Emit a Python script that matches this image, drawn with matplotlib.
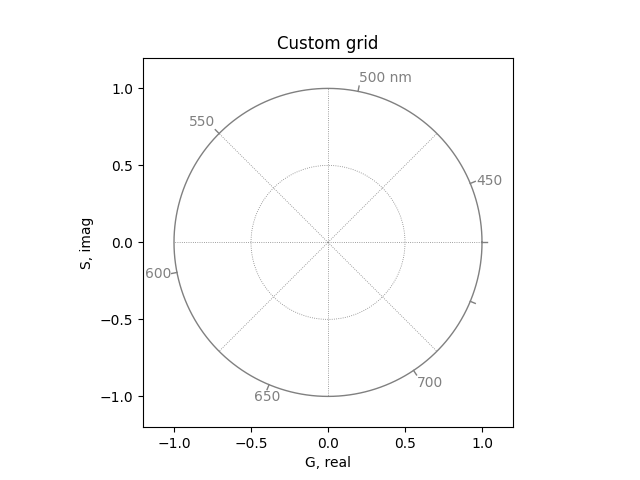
import numpy as np
import matplotlib
matplotlib.use('Agg')
import matplotlib.pyplot as plt

# wavelength ticks placed around the unit circle
wl_min, wl_max = 430, 750
tick_wl = [430, 450, 500, 550, 600, 650, 700, 730]
tick_labels = ['', '450', '500 nm', '550', '600', '650', '700', '']
grid_radii = [0.5]
spoke_angles = [0, 45, 90, 135, 180, 225, 270, 315]

fig, ax = plt.subplots(figsize=(6.4, 4.8), dpi=100)
ax.set_title('Custom grid')
ax.set_xlabel('G, real')
ax.set_ylabel('S, imag')
ax.set_xlim(-1.2, 1.2)
ax.set_ylim(-1.2, 1.2)
ax.set_aspect('equal')
ax.set_xticks([-1.0, -0.5, 0.0, 0.5, 1.0])
ax.set_yticks([-1.0, -0.5, 0.0, 0.5, 1.0])

grid_style = dict(color='0.5', lw=0.6, ls=':')
t = np.linspace(0, 2 * np.pi, 361)
for r in grid_radii:
    ax.plot(r * np.cos(t), r * np.sin(t), **grid_style)
for a in spoke_angles:
    a = np.deg2rad(a)
    ax.plot([0, np.cos(a)], [0, np.sin(a)], **grid_style)

# outer circle
ax.plot(np.cos(t), np.sin(t), color='0.5', lw=1.0)

for wl, lab in zip(tick_wl, tick_labels):
    a = 2 * np.pi * (wl - wl_min) / (wl_max - wl_min)
    c, s = np.cos(a), np.sin(a)
    ax.plot([c, 1.035 * c], [s, 1.035 * s], color='0.5', lw=1.0)
    if not lab:
        continue
    if c > 0.1:
        ha = 'left'
    elif c < -0.5:
        ha = 'right'
    else:
        ha = 'center'
    if s > 0.5:
        va = 'bottom'
    elif s < -0.5:
        va = 'top'
    else:
        va = 'center'
    ax.text(1.04 * c, 1.04 * s, lab, color='0.5', ha=ha, va=va, fontsize=10)

fig.savefig('out.png')
